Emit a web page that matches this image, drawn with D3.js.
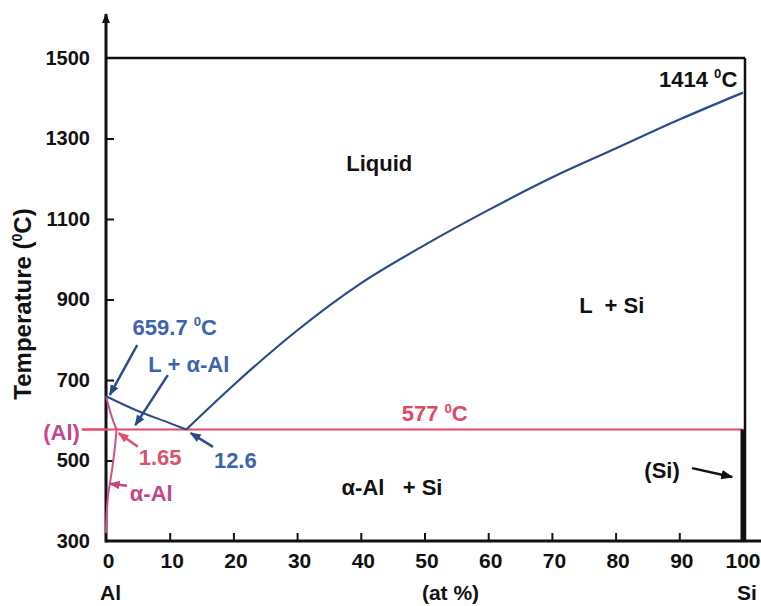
<!DOCTYPE html>
<html><head><meta charset="utf-8">
<script src="https://cdn.jsdelivr.net/npm/d3@7"></script>
<style>
body{margin:0;background:#fff}
svg text{font-family:"Liberation Sans",Arial,Helvetica,sans-serif;font-weight:bold;white-space:pre}
</style>
</head><body><svg id="c" width="761" height="606"></svg>
<script>
// ---- data ----
const xTicks = [0,10,20,30,40,50,60,70,80,90,100];
const yTicks = [300,500,700,900,1100,1300,1500];
const liquidusSi = [[12.6,577],[20,687],[30,823],[40,940],[50,1035],[60,1122],[70,1203],[80,1275],[90,1347],[100,1414]];
const liquidusAl = [[0,659.7],[5,623],[10,593],[12.6,577]];
const solidusAl  = [[0,659.7],[0.74,617],[1.26,592],[1.65,577]];
const solvusAl   = [[1.65,577],[1.4,533],[0.94,476],[0.5,432],[0.3,409],[0.08,360],[0,320]];
const eutectic   = {t:577, xMin:0, xMax:100};
const siLine     = {x:100, tTop:577, tBottom:300};
const labels = [
  {text:"Liquid",       x:42.9, t:1239, c:"#111"},
  {text:"L  + Si",      x:79.4, t:886,  c:"#111"},
  {text:"α-Al   + Si",  x:44.9, t:434,  c:"#111"},
  {text:"577 °C",       x:51.6, t:618,  c:"#e04a66"},
  {text:"1414 °C",      x:99.1, t:1448, c:"#111", anchor:"end"},
  {text:"659.7 °C",     x:10.8, t:832,  c:"#3d63ad"},
  {text:"L + α-Al",     x:13.0, t:740,  c:"#3d63ad"},
  {text:"1.65",         x:8.5,  t:509,  c:"#d9546b"},
  {text:"12.6",         x:20.3, t:501,  c:"#3d63ad"},
  {text:"α-Al",         x:7.1,  t:419,  c:"#c4468a"},
  {text:"(Al)",         x:-4.1, t:570,  c:"#c4468a", anchor:"end"},
  {text:"(Si)",         x:87.3, t:476,  c:"#111"}
];
const arrows = [
  {from:[4.9,787], to:[0.6,663], c:"#2b4a8a", m:"mb"},
  {from:[9.7,712], to:[4.6,588], c:"#2b4a8a", m:"mb"},
  {from:[5.0,534], to:[2.0,568], c:"#d9546b", m:"mr"},
  {from:[16.8,534],to:[13.3,568],c:"#2b4a8a", m:"mb"},
  {from:[3.3,437], to:[0.6,442], c:"#c4468a", m:"mm"},
  {from:[92.0,481],to:[98.3,459],c:"#111",    m:"mk"},
  {from:[-3.8,577],to:[0,577],   c:"#e04a6b", m:null}
];

// ---- scales ----
const svg = d3.select("#c");
const x = d3.scaleLinear().domain([0,100]).range([106,743]);
const y = d3.scaleLinear().domain([300,1500]).range([541,58]);

const defs = svg.append("defs");
function marker(id,color,size){
  defs.append("marker").attr("id",id).attr("viewBox","0 0 10 10")
    .attr("refX",9).attr("refY",5).attr("markerWidth",size).attr("markerHeight",size)
    .attr("markerUnits","userSpaceOnUse").attr("orient","auto")
    .append("path").attr("d","M0,1L10,5L0,9Z").attr("fill",color);
}
marker("mb","#2b4a8a",11); marker("mr","#d9546b",11); marker("mm","#c4468a",11);
marker("mk","#111",12); marker("ma","#111",10);

// frame
svg.append("line").attr("x1",x(0)).attr("x2",x(100)+2).attr("y1",y(1500)).attr("y2",y(1500))
  .attr("stroke","#111").attr("stroke-width",2.5);
svg.append("line").attr("x1",x(100)+2).attr("x2",x(100)+2).attr("y1",y(1500)).attr("y2",y(300))
  .attr("stroke","#111").attr("stroke-width",2.5);

// axes
const gx = svg.append("g").attr("transform",`translate(0,${y(300)})`)
  .call(d3.axisBottom(x).tickValues(xTicks).tickFormat(d3.format("d")).tickSizeInner(-8).tickSizeOuter(0).tickPadding(12));
gx.select(".domain").remove();
gx.selectAll(".tick line").attr("stroke","#111").attr("stroke-width",2)
  .filter(d=>d===0||d===100).remove();
gx.selectAll(".tick text").attr("font-size",21).attr("fill","#111").attr("dx",2);
gx.selectAll(".tick text").filter(d=>d===100).attr("text-anchor","end").attr("dx",17);

const gy = svg.append("g").attr("transform",`translate(${x(0)},0)`)
  .call(d3.axisLeft(y).tickValues(yTicks).tickFormat(d3.format("d")).tickSizeInner(-8).tickSizeOuter(0).tickPadding(16));
gy.select(".domain").remove();
gy.selectAll(".tick line").attr("stroke","#111").attr("stroke-width",2)
  .filter(d=>d===300||d===1500).remove();
gy.selectAll(".tick text").attr("font-size",20).attr("fill","#111");

svg.append("line").attr("x1",x(0)).attr("x2",761).attr("y1",y(300)).attr("y2",y(300))
  .attr("stroke","#111").attr("stroke-width",3);
svg.append("line").attr("x1",x(0)).attr("x2",x(0)).attr("y1",y(300)+1.5).attr("y2",14)
  .attr("stroke","#111").attr("stroke-width",3).attr("marker-end","url(#ma)");

// axis captions
svg.append("text").attr("x",x(0)-6).attr("y",600).attr("font-size",21).attr("fill","#111").text("Al");
svg.append("text").attr("x",x(50)+26).attr("y",600).attr("font-size",21).attr("fill","#111")
  .attr("text-anchor","middle").text("(at %)");
svg.append("text").attr("x",x(100)+4).attr("y",600).attr("font-size",21).attr("fill","#111")
  .attr("text-anchor","middle").text("Si");

const yt = svg.append("text").attr("transform","translate(31,304) rotate(-90)")
  .attr("text-anchor","middle").attr("font-size",24).attr("fill","#111");
yt.append("tspan").text("Temperature (");
yt.append("tspan").attr("font-size",14).attr("dy",-9).text("0");
yt.append("tspan").attr("dy",9).text("C)");

// phase lines
const line = d3.line().x(d=>x(d[0])).y(d=>y(d[1])).curve(d3.curveMonotoneX);
const lineY = d3.line().x(d=>x(d[0])).y(d=>y(d[1])).curve(d3.curveCatmullRom);
svg.append("line").attr("x1",x(eutectic.xMin)).attr("x2",x(eutectic.xMax))
  .attr("y1",y(eutectic.t)).attr("y2",y(eutectic.t)).attr("stroke","#e04a6b").attr("stroke-width",2);
svg.append("path").attr("d",lineY(solidusAl)).attr("fill","none").attr("stroke","#d0508a").attr("stroke-width",2);
svg.append("path").attr("d",lineY(solvusAl)).attr("fill","none").attr("stroke","#d0508a").attr("stroke-width",2);
svg.append("path").attr("d",line(liquidusAl)).attr("fill","none").attr("stroke","#2b4a8a").attr("stroke-width",2);
svg.append("path").attr("d",line(liquidusSi)).attr("fill","none").attr("stroke","#2b4a8a").attr("stroke-width",2.2);
svg.append("line").attr("x1",x(siLine.x)).attr("x2",x(siLine.x))
  .attr("y1",y(siLine.tTop)).attr("y2",y(siLine.tBottom)).attr("stroke","#111").attr("stroke-width",5);

// arrows
arrows.forEach(a=>{
  const l = svg.append("line").attr("x1",x(a.from[0])).attr("y1",y(a.from[1]))
    .attr("x2",x(a.to[0])).attr("y2",y(a.to[1])).attr("stroke",a.c).attr("stroke-width",2.5);
  if(a.m) l.attr("marker-end",`url(#${a.m})`);
});

// labels
const FS = 22;
labels.forEach(d=>{
  const t = svg.append("text").attr("x",x(d.x)).attr("y",y(d.t)+FS*0.36)
    .attr("text-anchor",d.anchor||"middle").attr("fill",d.c).attr("font-size",FS);
  const parts = d.text.split("°");
  t.append("tspan").text(parts[0]);
  if(parts.length>1){
    t.append("tspan").attr("font-size",FS*0.6).attr("dy",-FS*0.38).text("0");
    t.append("tspan").attr("dy",FS*0.38).text(parts[1]);
  }
});
</script></body></html>
